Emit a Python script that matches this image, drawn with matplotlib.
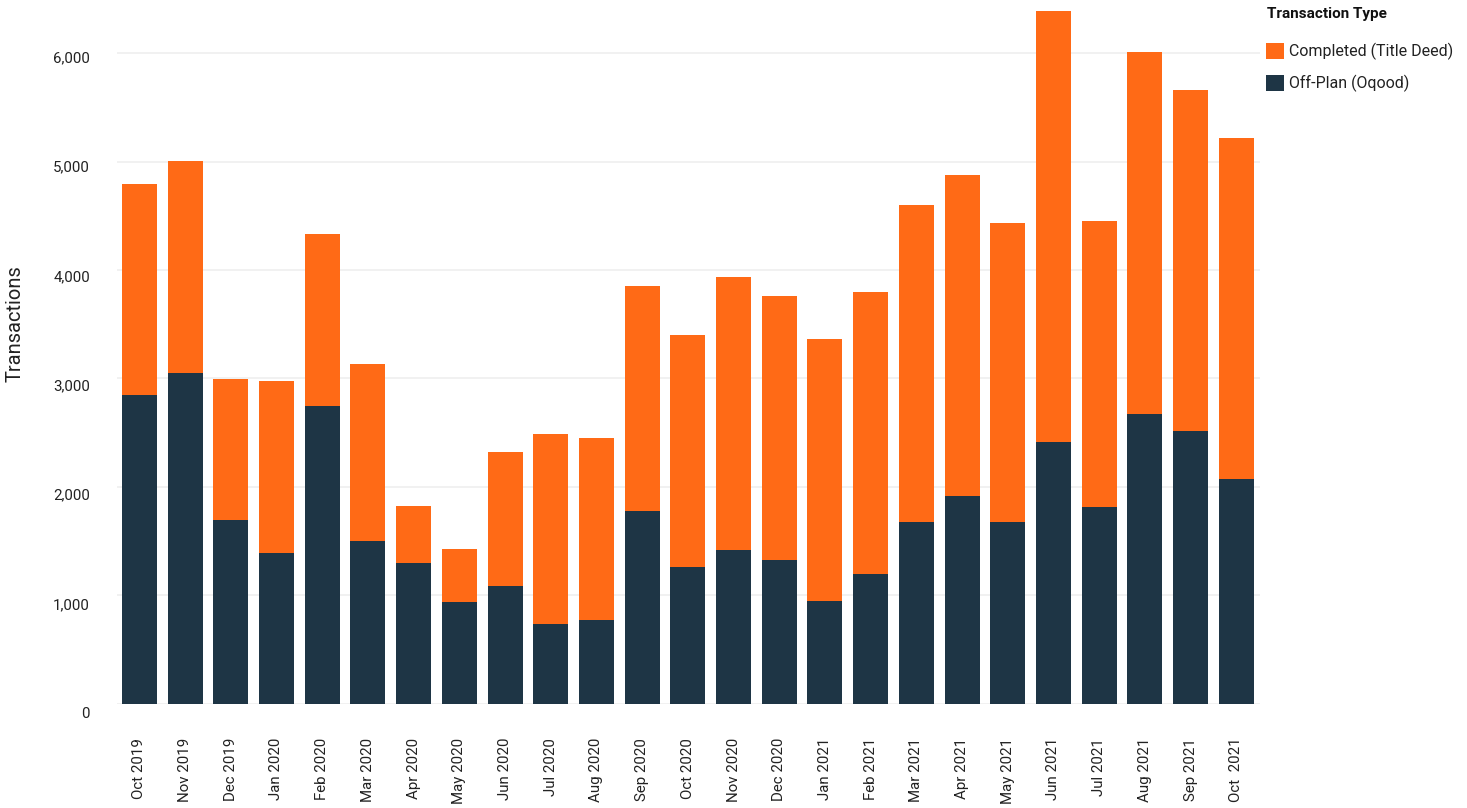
import matplotlib
matplotlib.use("Agg")
import matplotlib.pyplot as plt
import matplotlib.transforms as mtransforms
import numpy as np

plt.rcParams['font.family'] = ['Roboto', 'DejaVu Sans']

months = ["Oct 2019", "Nov 2019", "Dec 2019", "Jan 2020", "Feb 2020", "Mar 2020",
          "Apr 2020", "May 2020", "Jun 2020", "Jul 2020", "Aug 2020", "Sep 2020",
          "Oct 2020", "Nov 2020", "Dec 2020", "Jan 2021", "Feb 2021", "Mar 2021",
          "Apr 2021", "May 2021", "Jun 2021", "Jul 2021", "Aug 2021", "Sep 2021",
          "Oct  2021"]
off_plan = [2848, 3051, 1695, 1390, 2746, 1501, 1298, 938, 1086, 735, 772, 1778,
            1261, 1418, 1326, 947, 1196, 1676, 1916, 1676, 2414, 1815, 2673, 2516, 2073]
completed = [1946, 1955, 1300, 1587, 1587, 1633, 526, 489, 1236, 1753, 1679, 2075,
             2140, 2518, 2435, 2417, 2602, 2925, 2961, 2758, 3976, 2638, 3339, 3145, 3146]
yticks = [0, 1000, 2000, 3000, 4000, 5000, 6000]

c_off = "#1E3545"
c_comp = "#FF6A16"

W, H = 1467, 808
fig = plt.figure(figsize=(W / 100, H / 100), dpi=100)
ax_left, ax_right = 117, 1260
ax_top, ax_bot = 9.9, 703.7
ax = fig.add_axes([ax_left / W, 1 - ax_bot / H, (ax_right - ax_left) / W, (ax_bot - ax_top) / H])

x = np.arange(len(months))
b_off = ax.bar(x, off_plan, width=0.766, color=c_off, label="Off-Plan (Oqood)", zorder=3)
b_comp = ax.bar(x, completed, bottom=off_plan, width=0.766, color=c_comp,
                label="Completed (Title Deed)", zorder=3)

ax.set_xlim(-0.49, len(months) - 0.48)
ax.set_ylim(0, 6400)
ax.set_yticks(yticks)
ax.set_yticklabels([f"{v:,}" for v in yticks])
ax.yaxis.grid(True, color="#EFEFEF", linewidth=1.2, zorder=0)
ax.set_axisbelow(True)
for s in ax.spines.values():
    s.set_visible(False)
ax.tick_params(axis="both", length=0, labelsize=10.8, labelcolor="#222222")
ax.tick_params(axis="y", pad=19.5)
ax.tick_params(axis="x", pad=24.5)
ax.set_xticks(x)
ax.set_xticklabels(months, rotation=90)

label_drop_px = [9.3, 8.7, 7.1, 6.5, 5.9, 4.3, 3.7]
for lab, d in zip(ax.get_yticklabels(), label_drop_px):
    off = mtransforms.ScaledTranslation(0, -d / 100, fig.dpi_scale_trans)
    lab.set_transform(lab.get_transform() + off)

fig.text(15 / W, 1 - 324 / H, "Transactions", rotation=90, ha="center", va="center",
         fontsize=14.5, color="#222222")

fig.text(1267 / W, 1 - 14 / H, "Transaction Type", ha="left", va="center",
         fontsize=11, fontweight="bold", color="#111111")

leg = fig.legend(handles=[b_comp, b_off], labels=["Completed (Title Deed)", "Off-Plan (Oqood)"],
                 loc="upper left", bbox_to_anchor=(1266 / W, 1 - 43 / H),
                 frameon=False, fontsize=11.5,
                 handlelength=1.125, handleheight=1.125,
                 handletextpad=0.3, labelspacing=0.92, borderaxespad=0, borderpad=0)
for t in leg.get_texts():
    t.set_color("#222222")

fig.savefig("out.png", dpi=100, facecolor="white")
